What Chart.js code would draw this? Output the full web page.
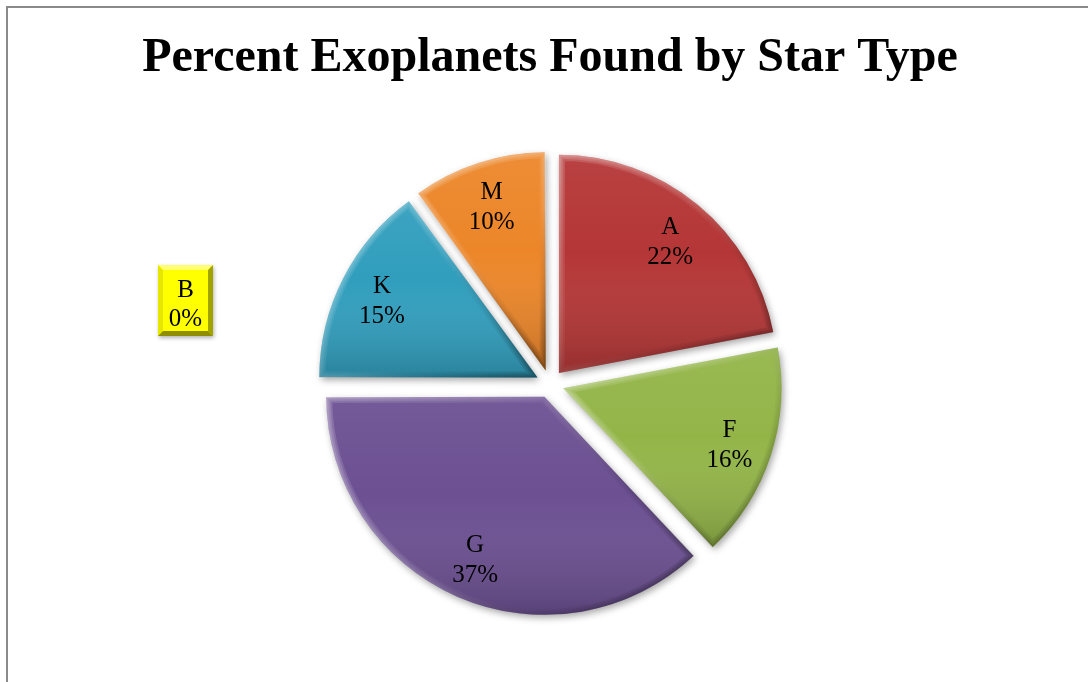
<!DOCTYPE html>
<html>
<head>
<meta charset="utf-8">
<script src="https://cdn.jsdelivr.net/npm/chart.js@4.4.1/dist/chart.umd.min.js"></script>
<style>
  html, body { margin: 0; padding: 0; background: #ffffff; }
  #wrap { width: 1088px; height: 682px; position: relative; }
</style>
</head>
<body>
<div id="wrap"><canvas id="chart" width="1088" height="682"></canvas></div>
<script>
// Share of known exoplanets by host star spectral type
const starTypes = ['A', 'B', 'F', 'G', 'K', 'M'];
const percentFound = [22, 0, 16, 37, 15, 10];
const sliceColors = ['#B53636', '#FFFF00', '#93B548', '#6C5092', '#319EBD', '#EC8629'];

const EXPLODE = 56;           // Chart.js pushes each slice out by offset / 4
const LABEL_FONT = '25px "Liberation Serif", "Times New Roman", serif';

// Chart.js also grows narrow exploded slices by this amount; undo it so all share one radius
function radiusGrowth(el) {
  const circ = el.endAngle - el.startAngle;
  return (EXPLODE / 4) * (1 - Math.sin(Math.min(Math.PI, circ)));
}

function sliceGeometry(el) {
  const shift = EXPLODE / 4;
  const mid = (el.startAngle + el.endAngle) / 2;
  const cx = el.x + Math.cos(mid) * shift;
  const cy = el.y + Math.sin(mid) * shift;
  const r = el.outerRadius + radiusGrowth(el);
  let minX = cx, maxX = cx, minY = cy, maxY = cy;
  for (let i = 0; i <= 40; i++) {
    const a = el.startAngle + (el.endAngle - el.startAngle) * i / 40;
    const px = cx + Math.cos(a) * r, py = cy + Math.sin(a) * r;
    minX = Math.min(minX, px); maxX = Math.max(maxX, px);
    minY = Math.min(minY, py); maxY = Math.max(maxY, py);
  }
  return { cx, cy, r, mid, minX, maxX, minY, maxY };
}

function tracePath(ctx, el, g) {
  ctx.beginPath();
  ctx.moveTo(g.cx, g.cy);
  ctx.arc(g.cx, g.cy, g.r, el.startAngle, el.endAngle);
  ctx.closePath();
}

const equalRadiusPlugin = {
  id: 'equalRadius',
  afterDatasetsUpdate(chart) {
    chart.getDatasetMeta(0).data.forEach(el => {
      el.outerRadius = el.outerRadius - radiusGrowth(el);
    });
  }
};

// Grey frame around the chart
const framePlugin = {
  id: 'frame',
  beforeDraw(chart) {
    const ctx = chart.ctx;
    ctx.save();
    ctx.strokeStyle = '#8a8a8a';
    ctx.lineWidth = 2;
    ctx.strokeRect(7, 7, 1100, 700);
    ctx.restore();
  }
};

// Soft drop shadow under the slices, then shading and a rounded bevel on top
const bevelPlugin = {
  id: 'bevel',
  beforeDatasetsDraw(chart) {
    const ctx = chart.ctx;
    ctx.save();
    ctx.shadowColor = 'rgba(0,0,0,0.35)';
    ctx.shadowBlur = 7;
    ctx.shadowOffsetX = 2;
    ctx.shadowOffsetY = 3;
  },
  afterDatasetsDraw(chart) {
    const ctx = chart.ctx;
    ctx.restore();
    const meta = chart.getDatasetMeta(0);
    meta.data.forEach((el, i) => {
      if (!percentFound[i]) return;
      const g = sliceGeometry(el);
      ctx.save();
      tracePath(ctx, el, g);
      ctx.clip();
      // body shading: slightly lighter at the top, darker at the bottom
      const body = ctx.createLinearGradient(0, g.minY, 0, g.maxY);
      body.addColorStop(0, 'rgba(255,255,255,0.06)');
      body.addColorStop(0.45, 'rgba(255,255,255,0)');
      body.addColorStop(1, 'rgba(0,0,0,0.18)');
      ctx.fillStyle = body;
      ctx.fillRect(g.minX - 2, g.minY - 2, g.maxX - g.minX + 4, g.maxY - g.minY + 4);
      // rim: layered strokes so the bevel fades towards the inside
      [12, 8, 4].forEach(w => {
        const rim = ctx.createLinearGradient(g.minX, g.minY, g.maxX, g.maxY);
        rim.addColorStop(0, 'rgba(255,255,255,0.16)');
        rim.addColorStop(0.45, 'rgba(255,255,255,0.05)');
        rim.addColorStop(0.7, 'rgba(0,0,0,0.04)');
        rim.addColorStop(1, 'rgba(0,0,0,0.14)');
        tracePath(ctx, el, g);
        ctx.lineJoin = 'miter';
        ctx.lineWidth = w;
        ctx.strokeStyle = rim;
        ctx.stroke();
      });
      ctx.restore();
    });
  }
};

// Category name and percentage inside each slice; the empty B slice gets a boxed label
const labelPlugin = {
  id: 'sliceLabels',
  afterDraw(chart) {
    const ctx = chart.ctx;
    const meta = chart.getDatasetMeta(0);
    ctx.save();
    ctx.font = LABEL_FONT;
    ctx.textAlign = 'center';
    ctx.textBaseline = 'alphabetic';
    ctx.fillStyle = '#000000';
    meta.data.forEach((el, i) => {
      const text = [starTypes[i], percentFound[i] + '%'];
      if (!percentFound[i]) {
        drawBoxLabel(ctx, text, sliceColors[i]);
        return;
      }
      const g = sliceGeometry(el);
      const d = g.r * 0.8;
      const x = g.cx + Math.cos(g.mid) * d;
      const y = g.cy + Math.sin(g.mid) * d;
      ctx.fillText(text[0], x, y - 5);
      ctx.fillText(text[1], x, y + 25);
    });
    ctx.restore();
  }
};

function drawBoxLabel(ctx, text, color) {
  const x = 158, y = 265, w = 55, h = 71, b = 5;
  ctx.save();
  ctx.shadowColor = 'rgba(0,0,0,0.3)';
  ctx.shadowBlur = 4;
  ctx.shadowOffsetX = 1;
  ctx.shadowOffsetY = 2;
  ctx.fillStyle = color;
  ctx.fillRect(x, y, w, h);
  ctx.restore();
  const band = (pts, fill) => {
    ctx.beginPath();
    ctx.moveTo(pts[0][0], pts[0][1]);
    for (let k = 1; k < pts.length; k++) ctx.lineTo(pts[k][0], pts[k][1]);
    ctx.closePath();
    ctx.fillStyle = fill;
    ctx.fill();
  };
  band([[x, y], [x + w, y], [x + w - b, y + b], [x + b, y + b]], '#FFFF70');
  band([[x, y], [x + b, y + b], [x + b, y + h - b], [x, y + h]], '#E6E600');
  band([[x + w, y], [x + w, y + h], [x + w - b, y + h - b], [x + w - b, y + b]], '#A3A300');
  band([[x, y + h], [x + b, y + h - b], [x + w - b, y + h - b], [x + w, y + h]], '#8E8E00');
  ctx.fillStyle = '#000000';
  ctx.font = LABEL_FONT;
  ctx.textAlign = 'center';
  ctx.fillText(text[0], x + w / 2, 297);
  ctx.fillText(text[1], x + w / 2, 326);
}

new Chart(document.getElementById('chart'), {
  type: 'pie',
  data: {
    labels: starTypes,
    datasets: [{
      data: percentFound,
      backgroundColor: sliceColors,
      borderWidth: 0,
      offset: EXPLODE,
      hoverOffset: EXPLODE
    }]
  },
  options: {
    responsive: false,
    devicePixelRatio: 1,
    animation: false,
    events: [],
    layout: { padding: { left: 12, right: 0, top: 0, bottom: 52 } },
    plugins: {
      legend: { display: false },
      tooltip: { enabled: false },
      title: {
        display: true,
        text: 'Percent Exoplanets Found by Star Type',
        color: '#000000',
        font: { family: '"Liberation Serif", "Times New Roman", serif', size: 48, weight: 'bold', lineHeight: 1.2 },
        padding: { top: 30, bottom: 50 }
      }
    }
  },
  plugins: [equalRadiusPlugin, framePlugin, bevelPlugin, labelPlugin]
});
</script>
</body>
</html>
